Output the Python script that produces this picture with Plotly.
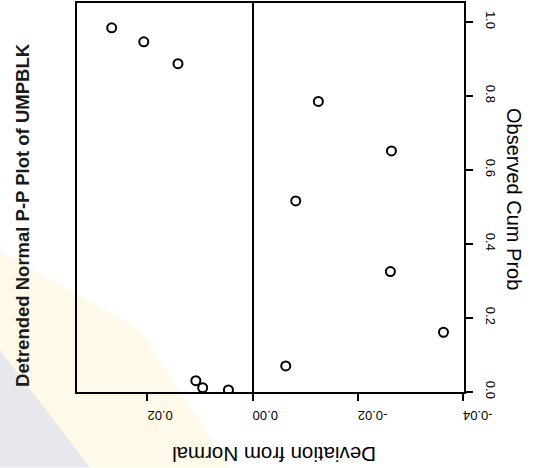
import plotly.graph_objects as go

# Detrended normal P-P values for UMPBLK
deviation = [0.0268, 0.0207, 0.0142, -0.0125, -0.0264, -0.0082,
             -0.0262, -0.0363, -0.0063, 0.0108, 0.0095, 0.0046]
observed_cum_prob = [0.984, 0.946, 0.887, 0.785, 0.651, 0.516,
                     0.325, 0.161, 0.070, 0.030, 0.011, 0.005]

dev_ticks = [0.02, 0.0, -0.02, -0.04]
dev_tick_text = ["0.02", "0.00", "-0.02", "-0.04"]
prob_ticks = [0.0, 0.2, 0.4, 0.6, 0.8, 1.0]
prob_tick_text = ["0.0", "0.2", "0.4", "0.6", "0.8", "1.0"]

FONT = "Liberation Sans, Arial, sans-serif"
W, H = 534, 468
ML, MR, MT, MB = 77, 70, 1, 76
PW, PH = W - ML - MR, H - MT - MB


def px(x):
    return (x - ML) / PW


def py(y):
    return (H - MB - y) / PH


fig = go.Figure()
fig.add_trace(go.Scatter(
    x=deviation, y=observed_cum_prob, mode="markers",
    marker=dict(symbol="circle-open", size=9, color="black",
                line=dict(width=2, color="black")),
    showlegend=False, hoverinfo="x+y",
))

# faint watermark tint in the lower-left corner
fig.add_shape(type="path", xref="paper", yref="paper", layer="below",
              path=f"M {px(0)} {py(250)} L {px(140)} {py(330)} L {px(230)} {py(468)} "
                   f"L {px(0)} {py(468)} Z",
              fillcolor="rgba(252,238,190,0.35)", line=dict(width=0))
fig.add_shape(type="path", xref="paper", yref="paper", layer="below",
              path=f"M {px(0)} {py(350)} L {px(90)} {py(468)} L {px(0)} {py(468)} Z",
              fillcolor="rgba(200,205,245,0.40)", line=dict(width=0))

fig.update_xaxes(
    range=[0.0334, -0.0402], tickvals=dev_ticks, ticktext=dev_tick_text,
    tickangle=180, ticks="outside", ticklen=7, tickwidth=1.5, tickcolor="black",
    ticklabelstandoff=8,
    tickfont=dict(family=FONT, size=13, color="black"),
    showline=True, linecolor="black", linewidth=1.5, mirror=True,
    showgrid=False, zeroline=True, zerolinecolor="black", zerolinewidth=1.5,
)
fig.update_yaxes(
    range=[-0.0005, 1.051], side="right", tickvals=prob_ticks,
    ticktext=prob_tick_text, tickangle=90, ticks="outside", ticklen=7,
    tickwidth=1.5, tickcolor="black", ticklabelstandoff=8,
    tickfont=dict(family=FONT, size=13, color="black"),
    showline=True, linecolor="black", linewidth=1.5, mirror=True,
    showgrid=False, zeroline=False,
)

fig.add_annotation(text="<b>Detrended Normal P-P Plot of UMPBLK</b>",
                   xref="paper", yref="paper", x=px(23), y=py(214),
                   xanchor="center", yanchor="middle", textangle=-90,
                   showarrow=False, font=dict(family=FONT, size=18.5, color="#1a1a1a"))
fig.add_annotation(text="Observed Cum Prob",
                   xref="paper", yref="paper", x=px(514), y=py(198),
                   xanchor="center", yanchor="middle", textangle=90,
                   showarrow=False, font=dict(family=FONT, size=20, color="black"))
fig.add_annotation(text="Deviation from Normal",
                   xref="paper", yref="paper", x=px(274), y=py(455),
                   xanchor="center", yanchor="middle", textangle=180,
                   showarrow=False, font=dict(family=FONT, size=20.5, color="black"))

fig.update_layout(
    width=W, height=H, autosize=False,
    margin=dict(l=ML, r=MR, t=MT, b=MB, pad=0),
    paper_bgcolor="white", plot_bgcolor="rgba(0,0,0,0)",
)

fig.write_html("out.html")
